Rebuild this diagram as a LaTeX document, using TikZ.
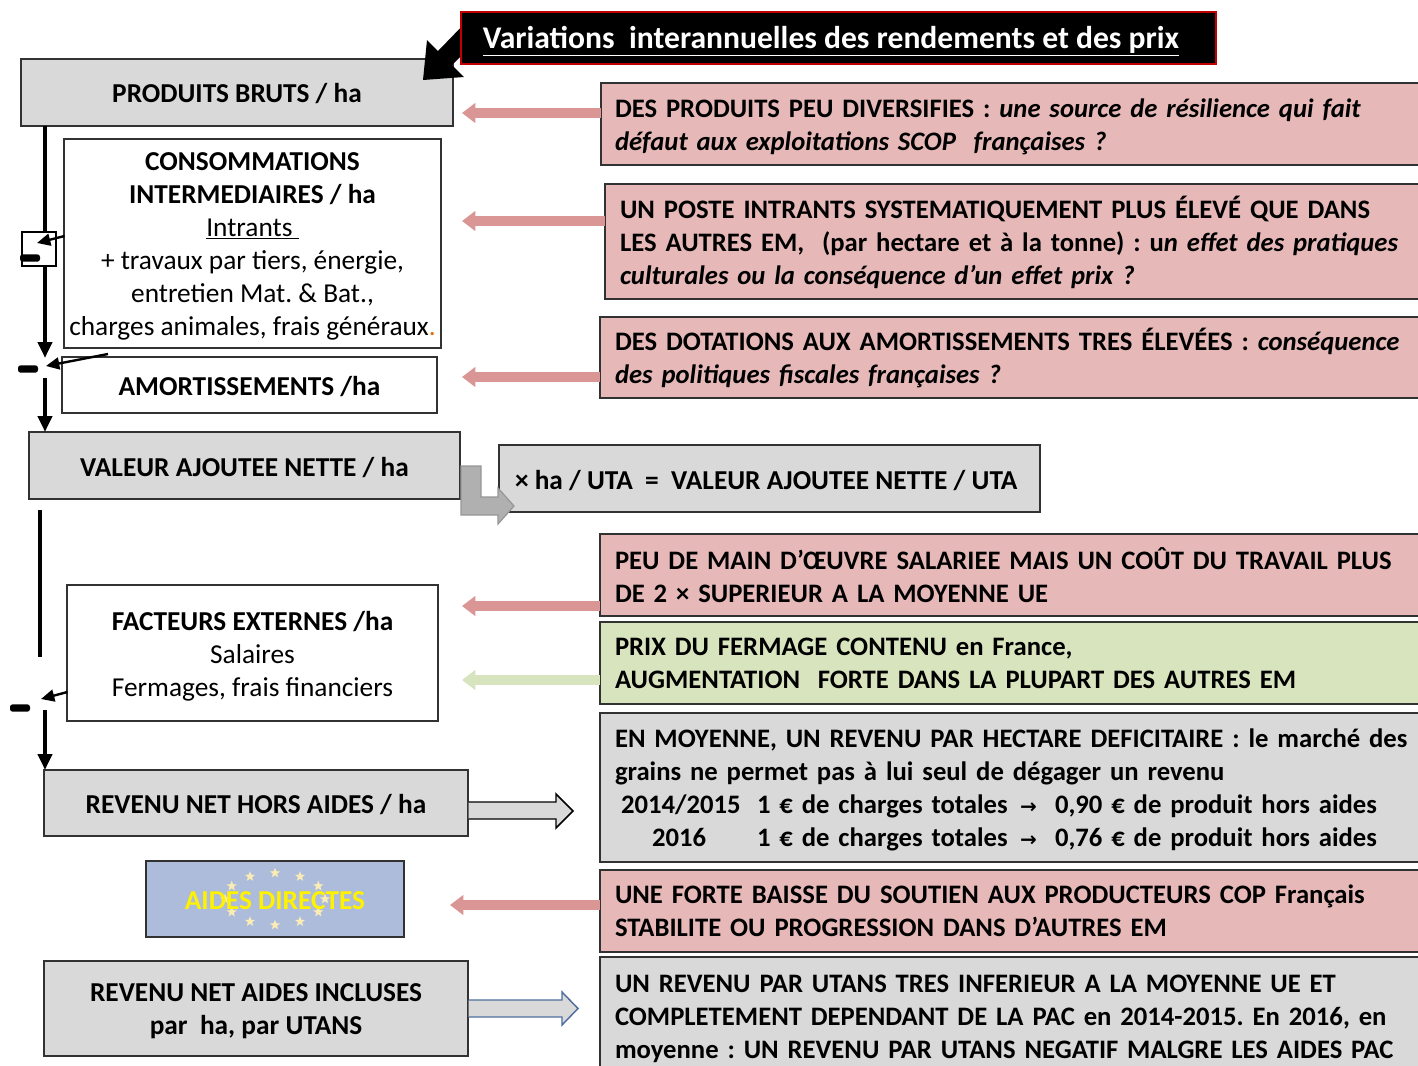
\documentclass[tikz,border=0pt]{standalone}
\usepackage{fontspec}
\setmainfont{Carlito}
\newfontfamily\arrowfont{DejaVu Sans}
\usetikzlibrary{arrows.meta,shapes.geometric,calc}
\definecolor{boxgray}{RGB}{217,217,217}
\definecolor{pinkbox}{RGB}{230,185,184}
\definecolor{pinkarrow}{RGB}{218,150,148}
\definecolor{greenbox}{RGB}{215,228,189}
\definecolor{eublue}{RGB}{174,188,220}
\definecolor{starcol}{RGB}{250,236,180}
\definecolor{titlered}{RGB}{192,0,0}
\definecolor{bordergray}{RGB}{50,50,50}
\definecolor{bluearrow}{RGB}{79,110,160}
\definecolor{arrowgray}{RGB}{176,176,176}
\definecolor{arrowgrayline}{RGB}{150,150,150}
\definecolor{dotorange}{RGB}{228,108,10}
\begin{document}
\frenchspacing
\begin{tikzpicture}[x=0.75pt,y=-0.75pt,
  every node/.style={inner sep=0pt,outer sep=0pt},
  wh/.style 2 args={minimum width={#1*0.75pt},minimum height={#2*0.75pt}},
  lbox/.style={draw=bordergray,line width=1.1pt},
  ltxt/.style={align=center,font=\fontsize{20.5}{24.75}\selectfont},
  ltxtb/.style={align=center,font=\fontsize{20.5}{24.75}\selectfont\bfseries},
  rbox/.style={draw=bordergray,line width=1.1pt,anchor=west},
  rtxt/.style={anchor=west,align=left,text width=640pt,font=\fontsize{20}{24.75}\selectfont\bfseries},
  pinkarr/.style={draw=pinkarrow,line width=8pt,-{Triangle[width=14.5pt,length=10pt]}},
  greenarr/.style={draw=greenbox,line width=8pt,-{Triangle[width=14.5pt,length=10pt]}},
  flowline/.style={line width=3pt},
  flowarr/.style={line width=3pt,-{Triangle[width=10.5pt,length=12pt]}},
  sidearr/.style={line width=1.8pt,-{Triangle[width=9pt,length=10pt]}},
  minus/.style={fill=black,rounded corners=2pt,minimum width=15pt,minimum height=5.5pt}
]
\fill[white] (0,0) rectangle (1418,1065);
\useasboundingbox (0,0) rectangle (1418,1065);

% left column boxes
\node[lbox,fill=boxgray,wh={432}{67}] (pb) at (237,92.5) {};
\node[ltxtb] (pbt) at ($(pb.center)+(0,1)$) {PRODUITS BRUTS / ha};

% title arrow (over the first box, under the title box)
\fill[black] (423,80) -- (427,40) -- (438,51) -- (470,18) -- (485,32) -- (452,65) -- (464,77) -- cycle;
% title
\node[fill=black,draw=titlered,line width=1.1pt,wh={755}{52}] (title) at (838.5,38) {};
\node[text=white,font=\fontsize{23.7}{27}\selectfont\bfseries] (titletext) at (831,41)
  {\underline{Variations\ \ interannuelles des rendements et des prix}};

\node[lbox,fill=white,wh={377}{209}] (ci) at (252.5,243.5) {};
\node[ltxt] (cit) at ($(ci.center)+(0,3)$)
  {\textbf{CONSOMMATIONS}\\ \textbf{INTERMEDIAIRES / ha}\\ \underline{Intrants\ }\\ + travaux par tiers, énergie,\\ entretien Mat. \& Bat.,\\ charges animales, frais généraux\textcolor{dotorange}{.}};
\node[lbox,fill=white,wh={375}{56}] (am) at (249.5,385) {};
\node[ltxtb] (amt) at ($(am.center)+(0,2)$) {AMORTISSEMENTS /ha};
\node[lbox,fill=boxgray,wh={431}{67}] (van) at (244.5,465.5) {};
\node[ltxtb] (vant) at ($(van.center)+(0,2)$) {VALEUR AJOUTEE NETTE / ha};
\node[lbox,fill=boxgray,wh={541}{67}] (uta) at (769.5,478.5) {};
\node[anchor=west,font=\fontsize{20.5}{24.75}\selectfont\bfseries] (utat) at ($(uta.west)+(16,2)$)
  {× ha / UTA\ \ =\ \ VALEUR AJOUTEE NETTE / UTA};
\node[lbox,fill=white,wh={371}{136}] (fe) at (252.5,653) {};
\node[ltxt] (fet) at ($(fe.center)+(0,3)$)
  {\textbf{FACTEURS EXTERNES /ha}\\ Salaires\\ Fermages, frais financiers};
\node[lbox,fill=boxgray,wh={424}{66}] (rnha) at (256,803) {};
\node[ltxtb] (rnhat) at ($(rnha.center)+(0,2)$) {REVENU NET HORS AIDES / ha};
\node[lbox,fill=eublue,wh={258}{76}] (aides) at (275,899) {};
\foreach \a in {0,30,...,330}
  \node[star,star points=5,star point ratio=2.4,fill=starcol,minimum size=8pt] (star\a) at ($(275,899)+(\a:50 and 26)$) {};
\node[text=yellow,font=\fontsize{20.5}{24.75}\selectfont\bfseries] (aidestext) at (275,901) {AIDES DIRECTES};
\node[lbox,fill=boxgray,wh={424}{95}] (rnai) at (256,1008.5) {};
\node[ltxtb] (rnait) at ($(rnai.center)+(0,3)$) {REVENU NET AIDES INCLUSES\\ par\ \ ha, par UTANS};

% right column boxes
\node[rbox,fill=pinkbox,wh={820}{82}] (r1) at (601,124) {};
\node[rtxt] (r1t) at ($(r1.west)+(14,3)$)
  {DES PRODUITS PEU DIVERSIFIES : \textit{une source de résilience qui fait}\\ \textit{défaut aux exploitations SCOP\ \ françaises ?}};
\node[rbox,fill=pinkbox,wh={820}{115}] (r2) at (605,241.5) {};
\node[rtxt] (r2t) at ($(r2.west)+(15,1)$)
  {UN POSTE INTRANTS SYSTEMATIQUEMENT PLUS ÉLEVÉ QUE DANS\\ LES AUTRES EM,\ \ (par hectare et à la tonne) : u\textit{n effet des pratiques}\\ \textit{culturales ou la conséquence d’un effet prix ?}};
\node[rbox,fill=pinkbox,wh={820}{81}] (r3) at (600,357.5) {};
\node[rtxt] (r3t) at ($(r3.west)+(15,0)$)
  {DES DOTATIONS AUX AMORTISSEMENTS TRES ÉLEVÉES : \textit{conséquence}\\ \textit{des politiques fiscales françaises ?}};
\node[rbox,fill=pinkbox,wh={820}{82}] (r4) at (600,575) {};
\node[rtxt] (r4t) at ($(r4.west)+(15,0)$)
  {PEU DE MAIN D’ŒUVRE SALARIEE MAIS UN COÛT DU TRAVAIL PLUS\\ DE 2 × SUPERIEUR A LA MOYENNE UE};
\node[rbox,fill=greenbox,wh={820}{82}] (r5) at (600,663) {};
\node[rtxt] (r5t) at ($(r5.west)+(15,0)$)
  {PRIX DU FERMAGE CONTENU en France,\\ AUGMENTATION\ \ FORTE DANS LA PLUPART DES AUTRES EM};
\node[rbox,fill=boxgray,wh={820}{149}] (r6) at (600,787.5) {};
\node[rtxt] (r6t) at ($(r6.west)+(15,2)$)
  {EN MOYENNE, UN REVENU PAR HECTARE DEFICITAIRE : le marché des\\ grains ne permet pas à lui seul de dégager un revenu\\
   \hspace*{4.5pt}\makebox[102pt][l]{2014/2015}\makebox[197.25pt][l]{1 € de charges totales}\makebox[26.25pt][l]{\arrowfont\fontsize{15}{15}\selectfont →}0,90 € de produit hors aides\\
   \hspace*{27.75pt}\makebox[78.75pt][l]{2016}\makebox[197.25pt][l]{1 € de charges totales}\makebox[26.25pt][l]{\arrowfont\fontsize{15}{15}\selectfont →}0,76 € de produit hors aides};
\node[rbox,fill=pinkbox,wh={820}{82}] (r7) at (600,911) {};
\node[rtxt] (r7t) at ($(r7.west)+(15,0)$)
  {UNE FORTE BAISSE DU SOUTIEN AUX PRODUCTEURS COP Français\\ STABILITE OU PROGRESSION DANS D’AUTRES EM};
\node[rbox,fill=boxgray,wh={820}{118}] (r8) at (600,1016) {};
\node[rtxt] (r8t) at ($(r8.west)+(15,3)$)
  {UN REVENU PAR UTANS TRES INFERIEUR A LA MOYENNE UE ET\\ COMPLETEMENT DEPENDANT DE LA PAC en 2014-2015. En 2016, en\\ moyenne : UN REVENU PAR UTANS NEGATIF MALGRE LES AIDES PAC};

% pink / green arrows pointing to the left column
\coordinate (t1) at (462,113);
\coordinate (t2) at (462,221);
\coordinate (t3) at (462,377);
\coordinate (t4) at (462,606);
\coordinate (t5) at (462,680);
\coordinate (t7) at (450,905);
\draw[pinkarr] (r1.west |- t1) -- (t1);
\draw[pinkarr] (r2.west |- t2) -- (t2);
\draw[pinkarr] (r3.west |- t3) -- (t3);
\draw[pinkarr] (r4.west |- t4) -- (t4);
\draw[greenarr] (r5.west |- t5) -- (t5);
\draw[pinkarr] (r7.west |- t7) -- (t7);

% gray bent arrow VAN/ha -> VAN/UTA
\draw[fill=arrowgray,draw=arrowgrayline,line width=0.9pt]
  (461,466) -- (481,466) -- (481,497) -- (498,497) -- (498,488) -- (514,506) -- (498,524) -- (498,515) -- (461,515) -- cycle;

% hollow arrows to the right
\draw[fill=boxgray,draw=black,line width=1.1pt]
  (468.5,802) -- (556,802) -- (556,794) -- (573,811) -- (556,828) -- (556,819) -- (468.5,819);
\draw[fill=boxgray,draw=bluearrow,line width=1.1pt]
  (468.5,1000) -- (562,1000) -- (562,992) -- (578,1008.5) -- (562,1025) -- (562,1017) -- (468.5,1017);

% left flow: products - CI - amortissements = VAN - facteurs externes = revenu
\coordinate (x45) at (45,0);
\node[draw=black,line width=0.8pt,fill=white,wh={34}{34}] (sb) at (39,249) {};
\draw[flowline] (pb.south -| x45) -- (sb.north -| x45);
\coordinate (j1) at (45,358);
\draw[flowarr] (sb.south -| x45) -- (j1);
\coordinate (sbtip) at (37,243);
\coordinate (ciout) at (64.5,236);
\draw[sidearr] (ciout) -- (sbtip);
\node[minus] (mn1) at (30,258) {};

\coordinate (amout) at (108,354);
\coordinate (j2) at (46,366);
\draw[sidearr] (amout) -- (j2);
\node[minus] (mn2) at (28,369) {};
\coordinate (j2b) at (45,378);
\draw[flowarr] (j2b) -- (van.north -| j2b);

\coordinate (l3a) at (40,510);
\coordinate (l3b) at (40,657);
\draw[flowline] (l3a) -- (l3b);
\coordinate (feout) at (67.5,692);
\coordinate (j3) at (41,699);
\draw[sidearr] (feout) -- (j3);
\node[minus] (mn3) at (20,708) {};
\coordinate (j3b) at (45,710);
\draw[flowarr] (j3b) -- (rnha.north -| j3b);
\end{tikzpicture}
\end{document}
